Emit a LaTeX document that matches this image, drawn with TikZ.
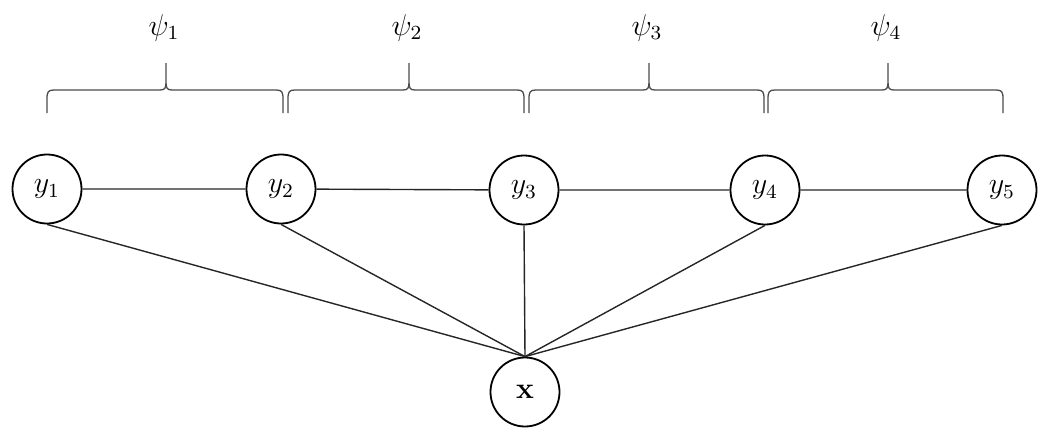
\documentclass[tikz,border=0pt]{standalone}
\usepackage{graphicx}
\newcommand{\mylbl}[1]{\scalebox{2.5}{\fontsize{12}{14}\selectfont$#1$}}
\begin{document}
\begin{tikzpicture}[x=1pt,y=-1pt,
  var/.style={circle,draw=black,line width=1.8pt,minimum size=69pt,inner sep=0pt},
  edge/.style={draw=black!85,line width=1.4pt},
  bracepath/.style={draw=black!70,line width=1.3pt},
  lab/.style={inner sep=0pt}]
\useasboundingbox (0,0) rectangle (1052,439);
\node[var] (y1) at (47,189) {\mylbl{y_1}};
\node[var] (y2) at (281,189) {\mylbl{y_2}};
\node[var] (y3) at (524,190) {\mylbl{y_3}};
\node[var] (y4) at (765,190) {\mylbl{y_4}};
\node[var] (y5) at (1002,190) {\mylbl{y_5}};
\node[var] (x) at (525,392) {\mylbl{\mathbf{x}}};
\draw[edge] (y1) -- (y2) -- (y3) -- (y4) -- (y5);
\foreach \n in {y1,y2,y3,y4,y5} \draw[edge] (\n.south) -- (x.north);
\foreach \a/\t/\b/\i in {47/166/283/1, 288/409/524/2, 529/649/764/3, 768/888/1003/4}{
  \draw[bracepath] (\a,113) -- (\a,99) .. controls (\a,92) and (\a+1,90) .. (\a+7,90)
     -- (\t-6,90) .. controls (\t-1,90) and (\t,88) .. (\t,82) -- (\t,63)
     (\t,82) .. controls (\t,88) and (\t+1,90) .. (\t+6,90)
     -- (\b-7,90) .. controls (\b-1,90) and (\b,92) .. (\b,99) -- (\b,113);
  \node[lab] (psi\i) at (\t-2,28) {\mylbl{\psi_\i}};
}
\end{tikzpicture}
\end{document}
